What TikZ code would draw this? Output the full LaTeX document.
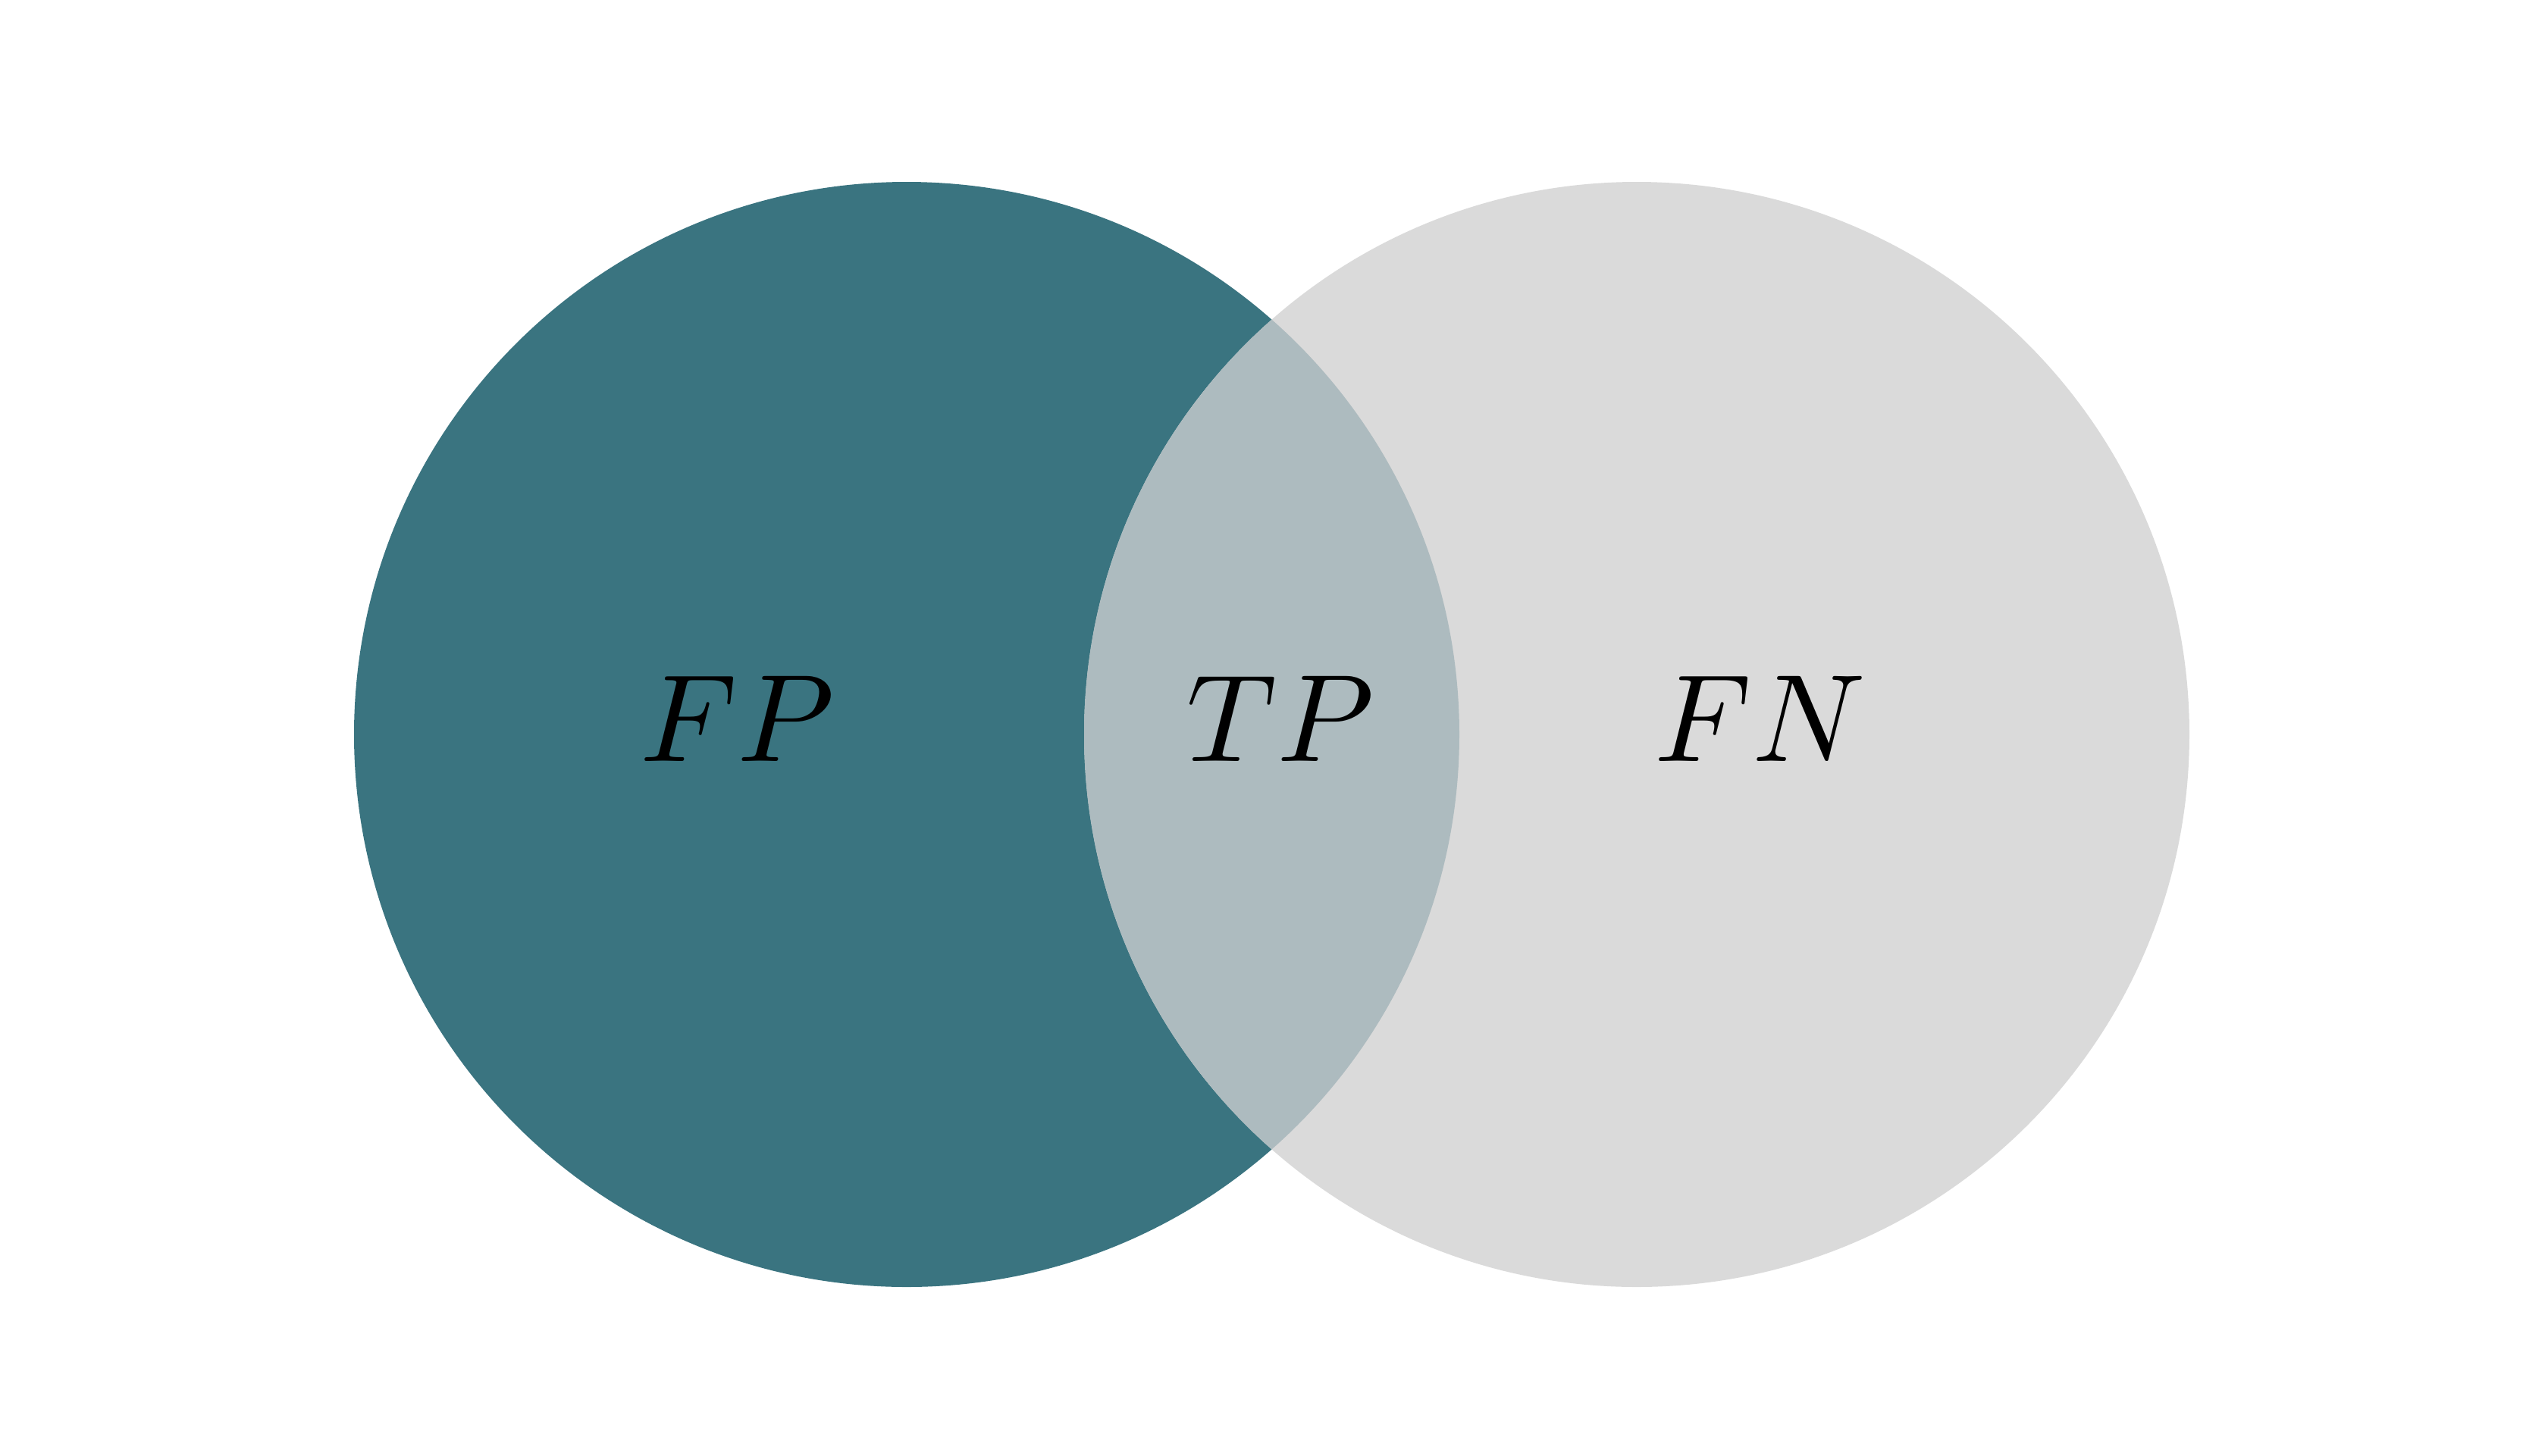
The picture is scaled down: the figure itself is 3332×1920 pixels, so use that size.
\documentclass[tikz,border=0pt]{standalone}
\definecolor{teal1}{HTML}{3A7480}
\definecolor{gray1}{HTML}{DADADA}
\definecolor{mix1}{HTML}{ADBBBF}
\newcommand{\biglbl}[1]{\scalebox{4.67}{$#1$}}
\begin{document}
\begin{tikzpicture}[x=0.01cm,y=-0.01cm,
  lbl/.style={anchor=base,inner sep=0pt}]
\useasboundingbox (0,0) rectangle (3332,1920);
\fill[teal1] (1196,969) circle[radius=729];
\fill[gray1] (2159,969) circle[radius=729];
\begin{scope}
\clip (1196,969) circle[radius=729];
\fill[mix1] (2159,969) circle[radius=729];
\end{scope}
\node[lbl] (fp) at (973,1004) {\biglbl{FP}};
\node[lbl] (tp) at (1689,1004) {\biglbl{TP}};
\node[lbl] (fn) at (2322,1004) {\biglbl{FN}};
\end{tikzpicture}
\end{document}
